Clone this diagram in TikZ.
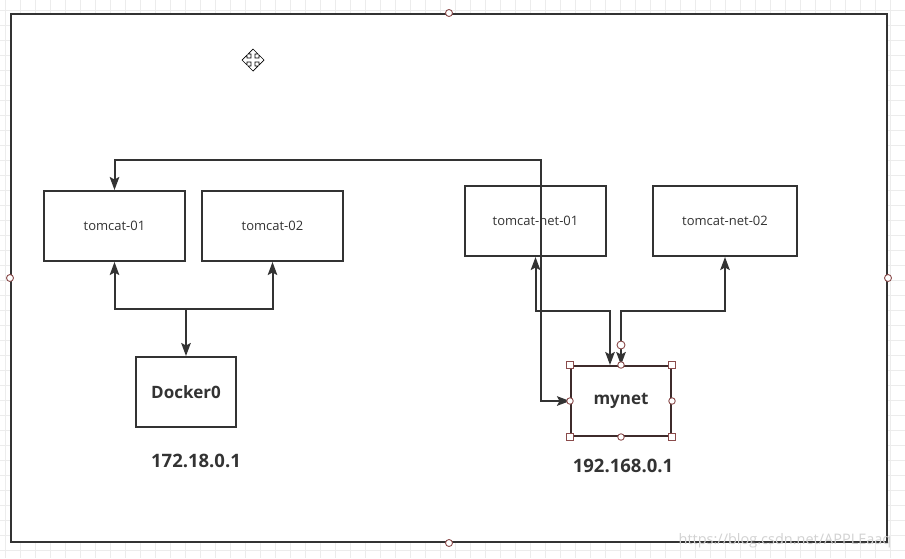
\documentclass[tikz,border=0pt]{standalone}
\usepackage{fontspec}
\setmainfont{Open Sans}
\usetikzlibrary{arrows.meta,calc}
\definecolor{ink}{HTML}{333333}
\definecolor{handle}{HTML}{8A4B4B}
\definecolor{selbox}{HTML}{3D2B2B}
\definecolor{gridc}{HTML}{ECECEC}
\definecolor{wm}{HTML}{D2D2D2}
\begin{document}
\begin{tikzpicture}[x=1pt,y=-1pt,
  tip/.tip={Stealth[length=13pt,width=9.5pt,inset=2.5pt]},
  box/.style={draw=ink,line width=2pt,inner sep=0pt,minimum height=70pt,text=ink,font=\fontsize{13}{15}\selectfont},
  boldbox/.style={box,font=\fontsize{17}{20}\selectfont\bfseries},
  lbl/.style={text=ink,font=\fontsize{18.5}{22}\selectfont\bfseries,inner sep=0pt},
  conn/.style={draw=ink,line width=2pt,tip-tip},
  connto/.style={draw=ink,line width=2pt,-tip},
  hcirc/.style={draw=handle,fill=white,line width=0.9pt,circle,inner sep=0pt,minimum size=7pt},
  hsq/.style={draw=handle,fill=white,line width=0.9pt,rectangle,inner sep=0pt,minimum size=7pt}]
\useasboundingbox (0,0) rectangle (905,558);
\fill[white] (0,0) rectangle (905,558);
% background grid
\foreach \gx in {5,20,...,905} \draw[gridc,line width=0.8pt] (\gx,0) -- (\gx,558);
\foreach \gy in {10,25,...,558} \draw[gridc,line width=0.8pt] (0,\gy) -- (905,\gy);
% outer container
\node[draw=ink,fill=white,line width=2pt,minimum width=876pt,minimum height=528pt,inner sep=0pt] (frame) at (449,278) {};
% move cursor icon
\draw[black,fill=white,line width=0.7pt,shift={(253,60)}]
  (0,-11) -- (5,-6) -- (2,-6) -- (2,-2) -- (6,-2) -- (6,-5) -- (11,0) -- (6,5) -- (6,2) -- (2,2) -- (2,6) -- (5,6)
  -- (0,11) -- (-5,6) -- (-2,6) -- (-2,2) -- (-6,2) -- (-6,5) -- (-11,0) -- (-6,-5) -- (-6,-2) -- (-2,-2) -- (-2,-6) -- (-5,-6) -- cycle;
% boxes
\node[box,minimum width=141pt] (t1) at (114.5,226) {tomcat-01};
\node[box,minimum width=141pt] (t2) at (272.5,226) {tomcat-02};
\node[box,minimum width=141pt] (tn1) at (535.5,221) {tomcat-net-01};
\node[box,minimum width=144pt] (tn2) at (725,221) {tomcat-net-02};
\node[boldbox,minimum width=100pt] (d0) at (186,392) {Docker0};
\node[boldbox,draw=selbox,minimum width=100pt] (mynet) at (621,401) {mynet};
\node[lbl] (ip1) at (196,461) {172.18.0.1};
\node[lbl] (ip2) at (623,466) {192.168.0.1};
% connectors
\coordinate (b1) at (541,160);
\draw[conn] (t1.north) |- (b1) |- (mynet.west);
\coordinate (j1) at (186,309);
\draw[connto] (j1) -| (t1.south);
\draw[connto] (j1) -| (t2.south);
\draw[connto] (j1) -- (d0.north);
\coordinate (m1) at ($(mynet.north)+(-11,0)$);
\coordinate (j2) at (610,311);
\coordinate (j3) at (621,311);
\draw[conn] (tn1.south) |- (j2) -- (m1);
\draw[conn] (tn2.south) |- (j3) -- (mynet.north);
% selection handles
\node[hcirc,minimum size=8pt] (h0) at (621,345) {};
\foreach \p in {north west,north east,south west,south east} \node[hsq] at (mynet.\p) {};
\foreach \p in {north,south,east,west} \node[hcirc,minimum size=6.5pt] at (mynet.\p) {};
\foreach \p in {north,south,east,west} \node[hcirc,minimum size=7pt] at (frame.\p) {};
% watermark
\node[text=wm,font=\fontsize{14.5}{16}\selectfont,inner sep=0pt] (wmk) at (785,541) {https://blog.csdn.net/APPLEaaq};
\end{tikzpicture}
\end{document}
